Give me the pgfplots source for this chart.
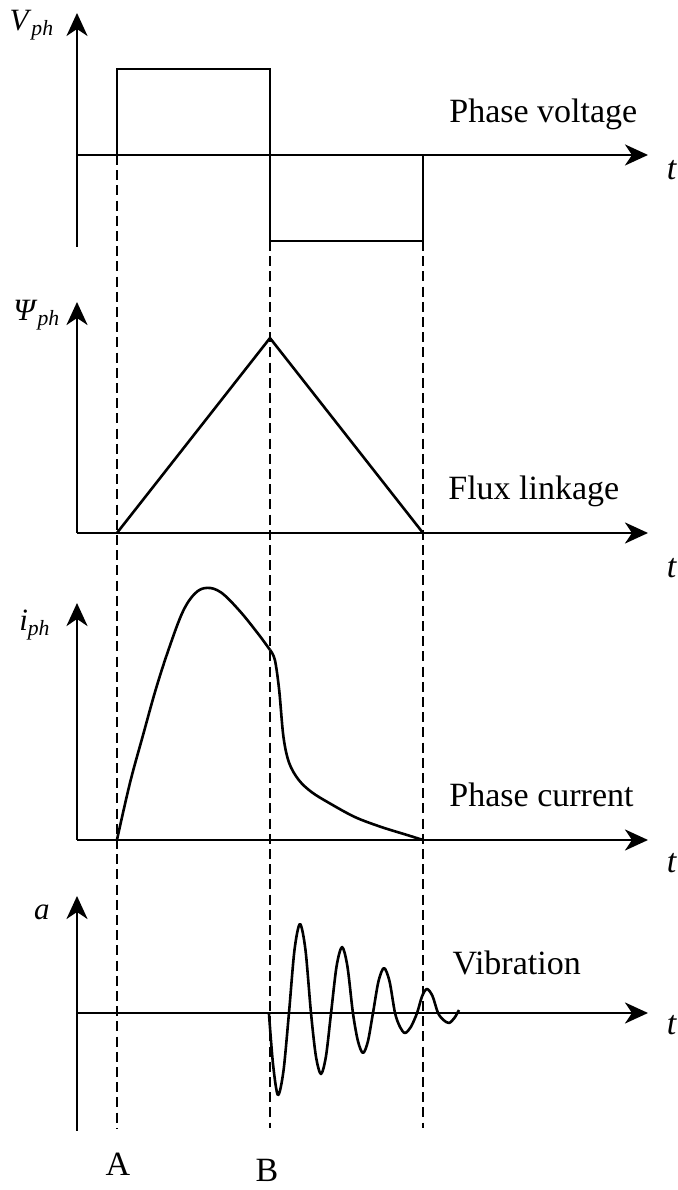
\documentclass[border=0pt]{standalone}
\usepackage{fontspec}
\setmainfont{Liberation Serif}
\usepackage{pgfplots}
\pgfplotsset{compat=1.18}
\usetikzlibrary{arrows.meta}

\pgfplotsset{
  panel/.style={
    scale only axis, width=285.5pt,
    xmin=-0.261, xmax=3.47,
    enlargelimits=false,
    xtick=\empty, ytick=\empty,
    clip=false,
    anchor=south west,
  },
  arrowed/.style={
    axis line style={line width=1.45pt,
      -{Stealth[length=11.5pt,width=10.5pt,inset=3.5pt]}},
  },
}
\tikzset{
  sig/.style={line width=1.3pt, black, line join=round},
  guide/.style={line width=0.9pt, black, dash pattern=on 5pt off 2.6pt},
  lbl/.style={font=\fontsize{17}{20}\selectfont, inner sep=0pt},
  sym/.style={font=\fontsize{15.5}{18}\selectfont},
}

\begin{document}
\begin{tikzpicture}
\path[use as bounding box] (0,0) rectangle (339pt,595pt);

% Phase voltage
\begin{axis}[panel, at={(38.5pt,471.5pt)}, height=117pt,
  ymin=-1.07, ymax=1.651,
  axis x line=middle, axis y line=left, arrowed]
\addplot[sig, no markers, sharp plot, line join=miter] coordinates {(0,0) (0,1) (1,1) (1,-1) (2,-1) (2,0)};
\node[lbl, anchor=base west] at (axis cs:2.17,0.372) {Phase voltage};
\node[lbl, anchor=base west] at (axis cs:3.59,-0.29) {\textit{t}};
\node[sym] at (axis cs:-0.556,1.51) {\textit{V}\textsubscript{\textit{ph}}};
\end{axis}

% Flux linkage
\begin{axis}[panel, at={(38.5pt,328.5pt)}, height=115.5pt,
  ymin=0, ymax=1.185,
  axis x line=bottom, axis y line=left, arrowed]
\addplot[sig, no markers, sharp plot] coordinates {(0,0) (1,1) (2,0)};
\node[lbl, anchor=base west] at (axis cs:2.163,0.174) {Flux linkage};
\node[lbl, anchor=base west] at (axis cs:3.59,-0.226) {\textit{t}};
\node[sym] at (axis cs:-0.523,1.118) {\textit{Ψ}\textsubscript{\textit{ph}}};
\end{axis}

% Phase current
\begin{axis}[panel, at={(38.5pt,175pt)}, height=118.5pt,
  ymin=0, ymax=0.94,
  axis x line=bottom, axis y line=left, arrowed]
\addplot[sig, no markers, smooth, tension=0.6] coordinates {
  (0,0) (0.085,0.226) (0.170,0.415) (0.255,0.600) (0.340,0.760)
  (0.430,0.905) (0.510,0.978) (0.588,1.0) (0.680,0.982)
  (0.800,0.910) (0.920,0.820) (1.0,0.754)};
\addplot[sig, no markers, smooth, tension=0.55] coordinates {
  (1.0,0.754) (1.032,0.714) (1.060,0.595) (1.088,0.409) (1.125,0.306)
  (1.188,0.238) (1.272,0.190) (1.386,0.147) (1.555,0.091)
  (1.725,0.052) (1.895,0.020) (2.0,0)};
\node[lbl, anchor=base west] at (axis cs:2.17,0.131) {Phase current};
\node[lbl, anchor=base west] at (axis cs:3.59,-0.127) {\textit{t}};
\node[sym] at (axis cs:-0.536,0.853) {\textit{i}\textsubscript{\textit{ph}}};
\end{axis}

% Vibration
\begin{axis}[panel, at={(38.5pt,29.5pt)}, height=117.5pt,
  ymin=-1.422, ymax=1.41,
  axis x line=middle, axis y line=left, arrowed]
\addplot[sig, no markers, smooth, tension=0.5] coordinates {
  (0.993,0) (1.020,-0.62) (1.052,-0.988) (1.088,-0.70) (1.124,0)
  (1.160,0.758) (1.196,1.072) (1.232,0.758) (1.268,0)
  (1.300,-0.52) (1.333,-0.735) (1.366,-0.52) (1.399,0)
  (1.435,0.562) (1.471,0.795) (1.506,0.562) (1.542,0)
  (1.575,-0.341) (1.608,-0.482) (1.640,-0.341) (1.673,0)
  (1.709,0.383) (1.745,0.542) (1.781,0.383) (1.817,0)
  (1.850,-0.17) (1.882,-0.241) (1.920,-0.17) (1.961,0)
  (1.994,0.204) (2.026,0.289) (2.062,0.204) (2.098,0)
  (2.134,-0.085) (2.170,-0.120) (2.205,-0.06) (2.235,0.036)};
\node[lbl, anchor=base west] at (axis cs:2.19,0.458) {Vibration};
\node[lbl, anchor=base west] at (axis cs:3.59,-0.265) {\textit{t}};
\node[sym] at (axis cs:-0.49,1.217) {\textit{a}};
\end{axis}

% Switching instants A, B and the end of conduction
\begin{axis}[hide axis, scale only axis, at={(38.5pt,0pt)}, anchor=south west,
  width=285.5pt, height=595pt, xmin=-0.261, xmax=3.47,
  ymin=0, ymax=1190, y dir=reverse, clip=false]
\addplot[guide, no markers] coordinates {(0,155) (0,1128)};
\addplot[guide, no markers] coordinates {(1,241) (1,1128)};
\addplot[guide, no markers] coordinates {(2,241) (2,1128)};
\node[lbl] at (axis cs:0.007,1164) {A};
\node[lbl] at (axis cs:0.98,1170) {B};
\end{axis}
\end{tikzpicture}
\end{document}
